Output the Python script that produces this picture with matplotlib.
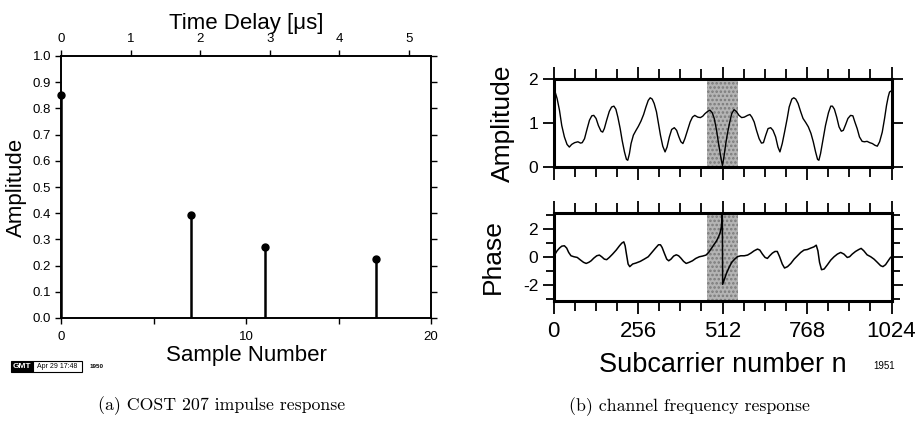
import matplotlib
matplotlib.use("Agg")
import matplotlib.pyplot as plt
from matplotlib.patches import Rectangle
import numpy as np

plt.rcParams['font.family'] = ['Liberation Sans', 'DejaVu Sans']
plt.rcParams['axes.unicode_minus'] = False
plt.rcParams['hatch.linewidth'] = 1.2

# ---- data: impulse response ----
tap_samples = [0, 7, 11, 17]
tap_amplitudes = [0.85, 0.395, 0.27, 0.225]
sample_period_us = 0.2658
amp_yticks = [0.0, 0.1, 0.2, 0.3, 0.4, 0.5, 0.6, 0.7, 0.8, 0.9, 1.0]
sample_ticks = [0, 10, 20]
delay_ticks = [0, 1, 2, 3, 4, 5]

# ---- data: channel frequency response ----
amp_n = [0, 5, 11, 18, 25, 33, 41, 48, 55, 64, 74, 82, 87, 94, 102, 109, 116, 122, 129,
         136, 144, 149, 154, 161, 169, 176, 183, 189, 195, 202, 208, 215, 221, 225, 230,
         235, 242, 250, 257, 265, 273, 280, 287, 293, 299, 305, 312, 318, 324, 331, 338,
         344, 351, 358, 366, 373, 380, 386, 392, 398, 406, 414, 421, 428, 437, 445, 452,
         459, 467, 474, 481, 487, 494, 500, 505, 509, 512,
         517, 522, 527, 534, 540, 547, 554, 562, 570, 578, 588, 595, 601, 608, 615, 623,
         630, 636, 643, 650, 658, 665, 673, 680, 686, 693, 700, 708, 714, 722, 728, 734,
         741, 749, 756, 764, 772, 780, 787, 794, 800, 804, 809, 816, 824, 833, 840, 845,
         851, 858, 865, 872, 878, 885, 892, 900, 907, 913, 920, 927, 935, 942, 950, 958,
         966, 974, 981, 988, 996, 1003, 1009, 1014, 1018, 1024]
amp_vals = [1.74, 1.71, 1.56, 1.30, 0.95, 0.69, 0.52, 0.46, 0.52, 0.56, 0.58, 0.55, 0.56,
            0.65, 0.88, 1.07, 1.17, 1.18, 1.11, 0.95, 0.82, 0.80, 0.88, 1.07, 1.27, 1.37,
            1.39, 1.32, 1.14, 0.88, 0.61, 0.35, 0.18, 0.16, 0.31, 0.54, 0.73, 0.84, 0.93,
            1.05, 1.20, 1.37, 1.52, 1.58, 1.55, 1.45, 1.26, 0.99, 0.73, 0.48, 0.35, 0.46,
            0.69, 0.86, 0.90, 0.84, 0.69, 0.58, 0.54, 0.65, 0.84, 1.03, 1.14, 1.18, 1.14,
            1.13, 1.16, 1.22, 1.27, 1.30, 1.24, 1.11, 0.84, 0.54, 0.31, 0.14, 0.04,
            0.27, 0.54, 0.77, 1.03, 1.22, 1.31, 1.27, 1.18, 1.13, 1.14, 1.18, 1.20, 1.14,
            1.03, 0.84, 0.65, 0.55, 0.56, 0.73, 0.88, 0.90, 0.84, 0.69, 0.46, 0.35, 0.54,
            0.80, 1.11, 1.37, 1.55, 1.58, 1.55, 1.45, 1.26, 1.11, 1.02, 0.92, 0.77, 0.58,
            0.35, 0.18, 0.16, 0.31, 0.61, 0.95, 1.24, 1.39, 1.39, 1.32, 1.14, 0.92, 0.82,
            0.84, 0.97, 1.11, 1.18, 1.17, 1.03, 0.88, 0.69, 0.59, 0.58, 0.59, 0.56, 0.54,
            0.50, 0.48, 0.58, 0.80, 1.11, 1.41, 1.60, 1.71, 1.74]

phase_n = [0, 3, 11, 18, 25, 33, 40, 46, 53, 62, 72, 82, 91, 99, 107, 114, 122, 131, 139,
           146, 154, 161, 169, 179, 190, 200, 207, 213, 217, 221, 226, 231, 240, 250, 263,
           275, 287, 298, 309, 318, 324, 329, 336, 343, 349, 356, 364, 372, 379, 386, 394,
           402, 411, 421, 431, 442, 452, 462, 470, 479, 487, 494, 500, 505, 509, 511.5,
           512.5, 518, 524, 532, 540, 549, 557, 567, 578, 588, 598, 608, 618, 625, 633,
           641, 648, 655, 663, 671, 678, 685, 693, 700, 709, 719, 729, 739, 749, 759, 769,
           779, 789, 796, 801, 806, 812, 820, 830, 840, 850, 860, 870, 880, 890, 897, 905,
           915, 925, 932, 940, 950, 961, 971, 981, 991, 998, 1006, 1014, 1021, 1024]
phase_vals = [0.05, 0.12, 0.43, 0.62, 0.76, 0.79, 0.62, 0.31, 0.07, 0.0, -0.05, -0.24,
              -0.40, -0.48, -0.40, -0.29, -0.10, 0.07, 0.12, 0.0, -0.17, -0.21, -0.05,
              0.19, 0.48, 0.79, 0.98, 1.07, 0.79, 0.19, -0.52, -0.71, -0.52, -0.45, -0.33,
              -0.17, 0.0, 0.31, 0.62, 0.86, 0.86, 0.67, 0.24, -0.17, -0.29, -0.17, 0.05,
              0.14, 0.07, -0.10, -0.33, -0.48, -0.40, -0.29, -0.12, 0.0, 0.05, 0.12, 0.31,
              0.62, 0.90, 1.14, 1.43, 1.74, 2.21, 3.14,
              -1.98, -1.60, -1.19, -0.76, -0.40, -0.17, 0.0, 0.07, 0.07, 0.12, 0.26, 0.43,
              0.55, 0.48, 0.19, -0.05, -0.12, 0.07, 0.26, 0.38, 0.38, 0.0, -0.52, -0.81,
              -0.71, -0.48, -0.17, 0.07, 0.31, 0.48, 0.52, 0.62, 0.71, 0.83, 0.43, -0.40,
              -0.93, -0.88, -0.57, -0.24, 0.0, 0.19, 0.31, 0.19, -0.05, 0.0, 0.19, 0.38,
              0.52, 0.60, 0.43, 0.14, 0.0, -0.17, -0.40, -0.64, -0.71, -0.57, -0.29, -0.05,
              0.0]

highlight_band = (465, 559)
subcarrier_ticks = [0, 256, 512, 768, 1024]
N_sub = 1024

W, H = 918, 430
fig = plt.figure(figsize=(W / 100, H / 100), dpi=100)


def fx(px):
    return px / W


def fy(py):
    return 1 - py / H


# ---------------- (a) impulse response ----------------
ax1 = fig.add_axes([fx(61), fy(318), fx(431 - 61), (318 - 56) / H])
ax1.set_xlim(0, 20)
ax1.set_ylim(0, 1.0)
ax1.vlines(tap_samples, 0, tap_amplitudes, color='black', lw=1.8, zorder=3)
ax1.plot(tap_samples, tap_amplitudes, 'o', color='black', ms=5, clip_on=False, zorder=4)
ax1.set_xticks(sample_ticks)
ax1.set_xticks([5, 15], minor=True)
ax1.set_yticks(amp_yticks)
ax1.set_yticklabels([f"{v:.1f}" for v in amp_yticks])
ax1.tick_params(axis='both', which='both', direction='out', length=4, width=1.0,
                labelsize=9.5, pad=3)
ax1.tick_params(axis='y', right=True)
ax1.tick_params(axis='x', pad=5)
for s in ax1.spines.values():
    s.set_linewidth(1.2)
ax1.set_ylabel('Amplitude', fontsize=16, labelpad=4)
ax1.set_xlabel('Sample Number', fontsize=16, labelpad=2)

ax1t = ax1.twiny()
ax1t.set_xlim(0, 20 * sample_period_us)
ax1t.set_xticks(delay_ticks)
ax1t.tick_params(axis='x', direction='out', length=4, width=1.0, labelsize=9.5, pad=4)
ax1t.set_xlabel('Time Delay [μs]', fontsize=16, labelpad=3)
for s in ax1t.spines.values():
    s.set_linewidth(1.2)

# ---------------- (b) frequency response ----------------
xl, xr = 553.5, 891.5
axA = fig.add_axes([fx(xl), fy(167.3), fx(xr - xl), (167.3 - 79.3) / H])
axP = fig.add_axes([fx(xl), fy(300.5), fx(xr - xl), (300.5 - 213) / H])

for ax in (axA, axP):
    ax.axvspan(*highlight_band, facecolor='#b4b4b4', edgecolor='#7a7a7a', hatch='....',
               lw=0, zorder=1)
    ax.set_xlim(0, N_sub)
    ax.set_xticks(subcarrier_ticks)
    ax.set_xticks(np.arange(0, N_sub + 1, 64), minor=True)
    ax.tick_params(axis='both', which='both', direction='out', width=1.3,
                   top=True, right=True)
    ax.tick_params(axis='x', which='major', length=9)
    ax.tick_params(axis='x', which='minor', length=7)
    ax.tick_params(axis='y', which='major', length=8, labelsize=12.5, pad=3)
    ax.tick_params(axis='y', which='minor', length=6)
    for s in ax.spines.values():
        s.set_linewidth(2.2)

axA.plot(amp_n, amp_vals, color='black', lw=1.0, zorder=3)
axA.set_ylim(0, 2)
axA.set_yticks([0, 1, 2])
axA.tick_params(axis='x', labelbottom=False)
axA.set_ylabel('Amplitude', fontsize=19, labelpad=10)

axP.plot(phase_n, phase_vals, color='black', lw=1.1, zorder=3)
axP.set_ylim(-np.pi, np.pi)
axP.set_yticks([-2, 0, 2])
axP.set_yticklabels(['-2', '0', '2'])
axP.set_yticks([-3, -1, 1, 3], minor=True)
axP.tick_params(axis='x', which='major', labelsize=16, pad=6)
axP.set_ylabel('Phase', fontsize=19, labelpad=13)
axP.set_xlabel('Subcarrier number n', fontsize=19.5, labelpad=7)

# ---------------- stamps and captions ----------------
fig.patches.append(Rectangle((fx(11), fy(372)), fx(22), 11 / H, transform=fig.transFigure,
                             facecolor='black', edgecolor='black', lw=0.8))
fig.patches.append(Rectangle((fx(33), fy(372)), fx(49), 11 / H, transform=fig.transFigure,
                             facecolor='white', edgecolor='black', lw=0.8))
fig.text(fx(22), fy(366.5), 'GMT', color='white', fontsize=6, weight='bold',
         ha='center', va='center')
fig.text(fx(57.5), fy(366.5), 'Apr 29 17:48', color='black', fontsize=5,
         ha='center', va='center')
fig.text(fx(97), fy(366.5), '1950', color='black', fontsize=4.5, weight='bold',
         ha='center', va='center')
fig.text(fx(884), fy(366), '1951', color='black', fontsize=7,
         ha='center', va='center')

fig.text(fx(221.5), fy(406), '(a) COST 207 impulse response', family='cmr10',
         fontsize=12.8, ha='center', va='center')
fig.text(fx(689.5), fy(407), '(b) channel frequency response', family='cmr10',
         fontsize=12.8, ha='center', va='center')

fig.savefig('out.png', dpi=100)
